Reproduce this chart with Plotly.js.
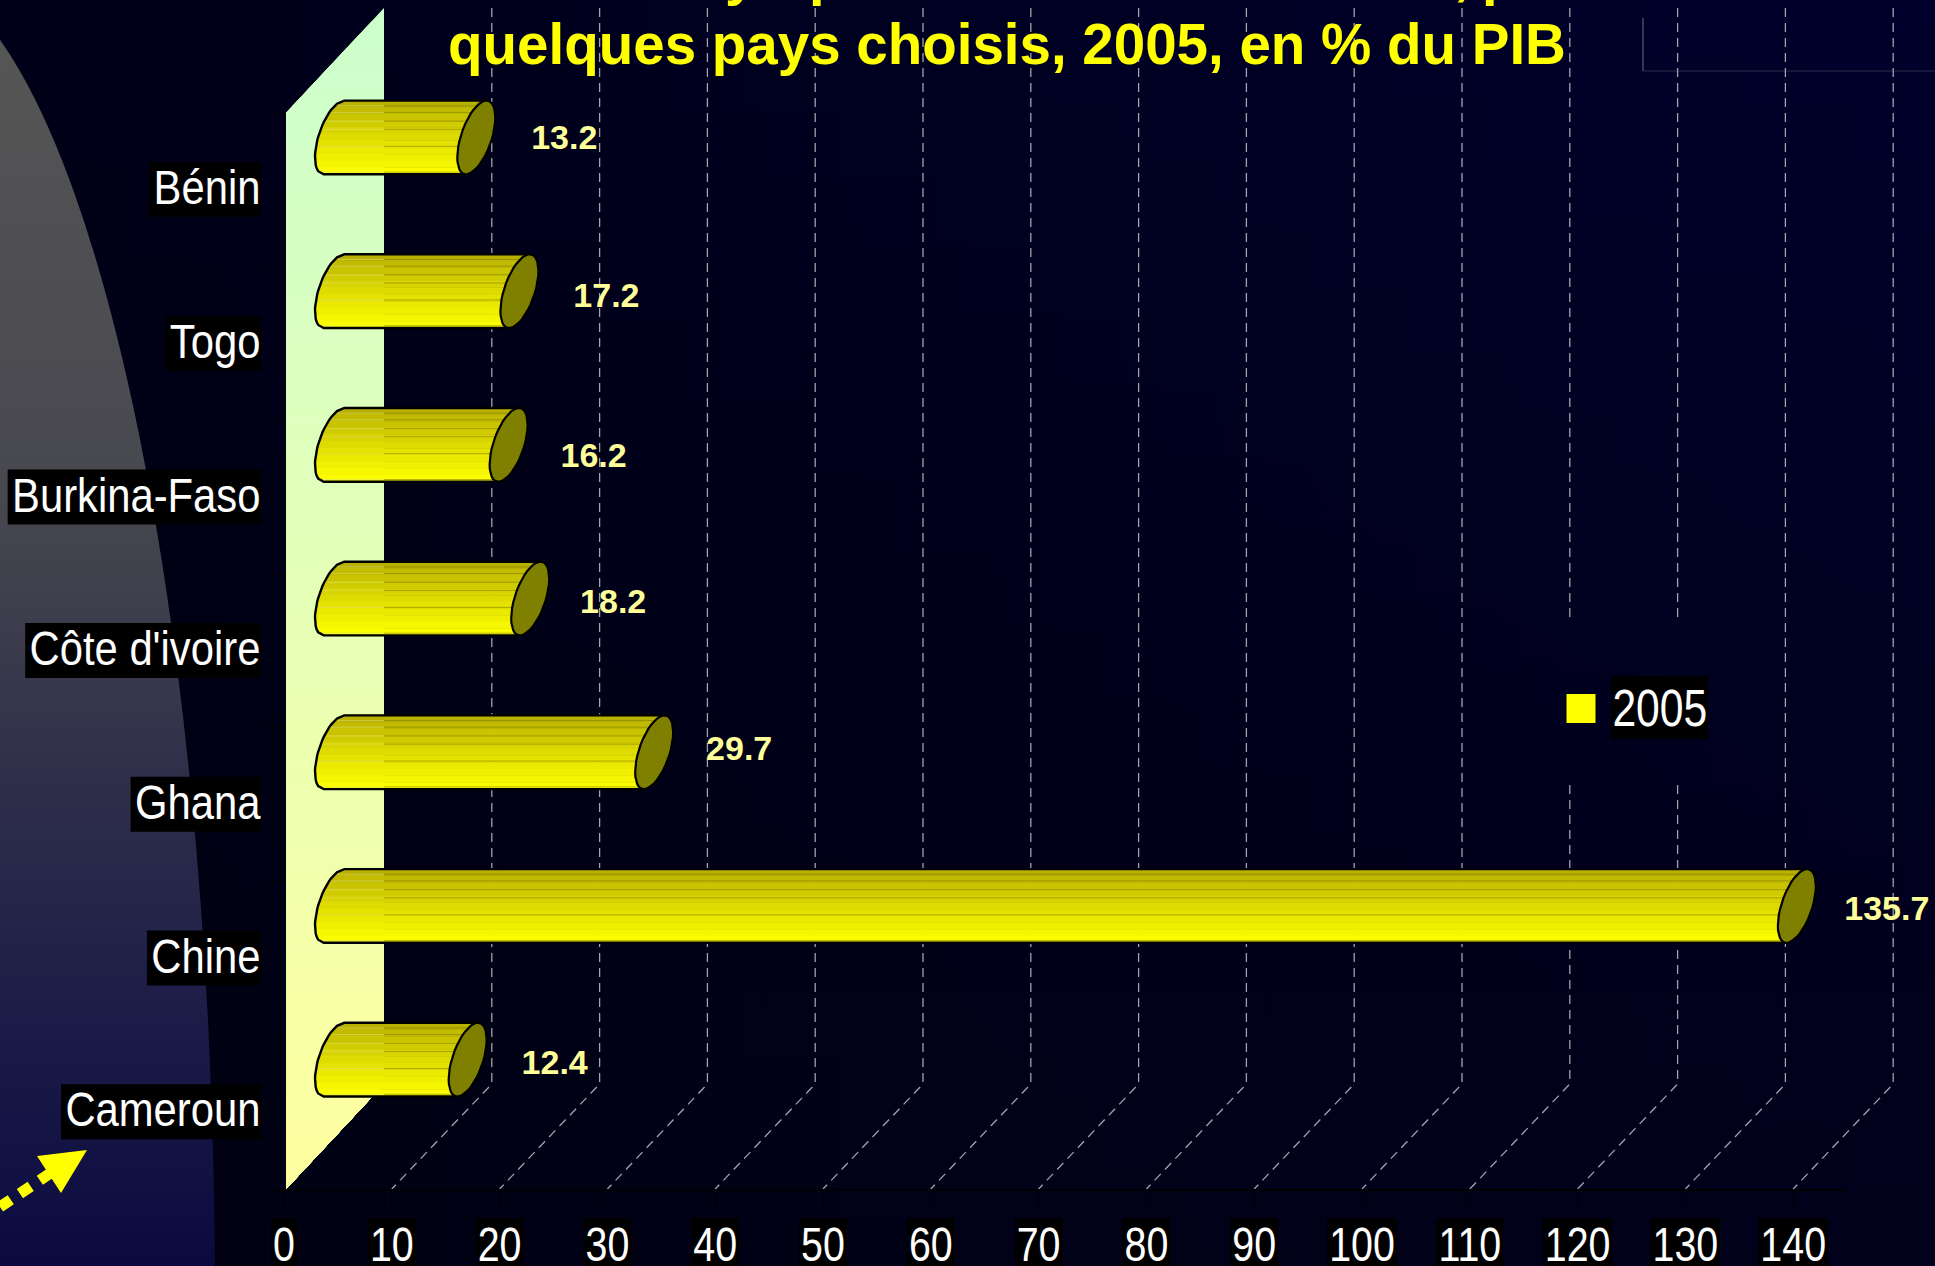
<!DOCTYPE html>
<html>
<head>
<meta charset="utf-8">
<script src="https://cdn.plot.ly/plotly-3.0.1.min.js"></script>
<style>
html,body{margin:0;padding:0;width:1935px;height:1266px;overflow:hidden;background:#000018}
#bg{position:absolute;left:0;top:0;width:1935px;height:1266px}
#chart{position:absolute;left:0;top:0;width:1935px;height:1266px}
</style>
</head>
<body>
<svg id="bg" width="1935" height="1266" xmlns="http://www.w3.org/2000/svg">
<defs>
<linearGradient id="topG" x1="0" y1="0" x2="1" y2="0"><stop offset="0" stop-color="#000018"/><stop offset="1" stop-color="#00002c"/></linearGradient>
<linearGradient id="fade" x1="0" y1="0" x2="0" y2="1"><stop offset="0" stop-color="#000000" stop-opacity="0"/><stop offset="1" stop-color="#02020e" stop-opacity="0.55"/></linearGradient>
<linearGradient id="moon" gradientUnits="userSpaceOnUse" x1="0" y1="40" x2="0" y2="1266">
<stop offset="0" stop-color="#565656"/><stop offset="0.38" stop-color="#47474f"/><stop offset="0.62" stop-color="#2d2d4a"/><stop offset="0.8" stop-color="#1c1c48"/><stop offset="1" stop-color="#0a0a40"/>
</linearGradient>
</defs>
<rect width="1935" height="1266" fill="url(#topG)"/>
<rect width="1935" height="1266" fill="url(#fade)"/>
<ellipse cx="-100" cy="1300" rx="315" ry="1329" fill="url(#moon)"/>
</svg>
<div id="chart"></div>
<script>
// ---- data ----
const categories = ["Bénin","Togo","Burkina-Faso","Côte d'ivoire","Ghana","Chine","Cameroun"];
const values = [13.2,17.2,16.2,18.2,29.7,135.7,12.4];
const seriesName = "2005";
const xTicks = [0,10,20,30,40,50,60,70,80,90,100,110,120,130,140];
const titleText = "quelques pays choisis, 2005, en % du PIB";
const hiddenTitleGlyphs = ["y","p",",","p"];

// ---- layout / 3-D projection settings ----
const W=1935,H=1266,L=284,R=0,B=77;
const unitPx=10.78,rowPx=153.7;
const plotW=W-L-R,plotH=H-B;
const xMax=plotW/unitPx,yBottom=6.5,yTop=yBottom-plotH/rowPx;
const depthX=100,depthY=105;          // px shift from front plane to back wall
const rd=19,rv=31,slope=1.05;         // tube cross-section
const narrowScale=0.82,catScale=0.87; // narrow-font proportion applied to the sans font
const sans='"Liberation Sans",Arial,sans-serif';
const pX=px=>(px-L)/plotW, pY=py=>(plotH-py)/plotH;
const ux=px=>px/unitPx, uy=py=>py/rowPx;

const A=slope*slope+rv*rv/(rd*rd), ymaxE=Math.sqrt(slope*slope*rd*rd+rv*rv);
function roots(y){
  const d=Math.max(0,4*slope*slope*y*y-4*A*(y*y-rv*rv));
  const s=Math.sqrt(d);
  return [(-2*slope*y-s)/(2*A),(-2*slope*y+s)/(2*A)];
}
const midX=ux(depthX/2), midY=uy(depthY/2);

// ---- traces ----
const traces=[];
const base={type:'scatter',hoverinfo:'skip',showlegend:false,cliponaxis:false};

// gridlines: back wall vertical + floor diagonal, broken behind the legend
const gapTop=620,gapBottom=785,gapTicks=[110,120];
const gx=[],gy=[];
const backTopIdx=-0.5-uy(depthY),backBotIdx=yBottom-uy(depthY);
const gapA=yBottom-(plotH-gapTop)/rowPx,gapB=yBottom-(plotH-gapBottom)/rowPx;
xTicks.slice(1).forEach(t=>{
  const bx=t+ux(depthX);
  if(gapTicks.includes(t)){
    gx.push(bx,bx,null,bx,bx,t,null);
    gy.push(backTopIdx,gapA,null,gapB,backBotIdx,yBottom,null);
  } else {
    gx.push(bx,bx,t,null);
    gy.push(backTopIdx,backBotIdx,yBottom,null);
  }
});
traces.push({...base,mode:'lines',x:gx,y:gy,line:{color:'#a2a2ac',width:1.3,dash:'9px,6px'}});

// tube bands
const nBands=11;
for(let b=0;b<nBands;b++){
  const f0=b/nBands,f1=(b+1)/nBands;
  const c=Math.pow(0.5*(f0+f1),0.8);
  const col=`rgb(${Math.round(178+(255-178)*c)},${Math.round(170+(255-170)*c)},0)`;
  const xs=[],ys=[];
  values.forEach((v,i)=>{
    const cy=i-midY,x0=midX,x1=v+midX;
    const yA=-ymaxE+2*ymaxE*f0,yB=-ymaxE+2*ymaxE*f1;
    const n=5,le=[],ri=[];
    for(let k=0;k<=n;k++){
      const y=yA+(yB-yA)*k/n,r=roots(y);
      le.push([x0+ux(r[0]),cy+uy(y)]);
      ri.push([x1+ux(r[1]),cy+uy(y)]);
    }
    le.forEach(p=>{xs.push(p[0]);ys.push(p[1]);});
    ri.reverse().forEach(p=>{xs.push(p[0]);ys.push(p[1]);});
    xs.push(le[0][0],null);ys.push(le[0][1],null);
  });
  traces.push({...base,mode:'lines',x:xs,y:ys,fill:'toself',fillcolor:col,line:{width:0.6,color:col}});
}
// tube ridge lines
const ridgeF=[0.07,0.16,0.28,0.39,0.62,0.97];
const dkX=[],dkY=[],ltX=[],ltY=[];
const wallX=ux(depthX);
values.forEach((v,i)=>{
  const cy=i-midY;
  ridgeF.forEach(f=>{
    const y=-ymaxE+2*ymaxE*f,r=roots(y);
    const xa=midX+ux(r[0]),xb=v+midX+ux(r[0])+ux(4);
    ltX.push(xa,wallX,null);ltY.push(cy+uy(y),cy+uy(y),null);
    dkX.push(wallX,xb,null);dkY.push(cy+uy(y),cy+uy(y),null);
  });
});
traces.push({...base,mode:'lines',x:ltX,y:ltY,line:{color:'rgba(225,225,130,0.5)',width:1}});
traces.push({...base,mode:'lines',x:dkX,y:dkY,line:{color:'rgba(125,120,0,0.55)',width:1}});

// tube outline (left profile, top and bottom edges)
const oX=[],oY=[];
values.forEach((v,i)=>{
  const cy=i-midY;
  const n=24,side=[];
  for(let k=0;k<=n;k++){
    const y=-ymaxE+2*ymaxE*k/n,r=roots(y);
    side.push([midX+ux(r[0]),cy+uy(y)]);
  }
  const t=roots(-ymaxE)[0],bt=roots(ymaxE)[0];
  oX.push(v+midX+ux(t));oY.push(cy+uy(-ymaxE));
  side.forEach(p=>{oX.push(p[0]);oY.push(p[1]);});
  oX.push(v+midX+ux(bt),null);oY.push(cy+uy(ymaxE),null);
});
traces.push({...base,mode:'lines',x:oX,y:oY,line:{color:'#000',width:2.4}});

// tube end caps
const cX=[],cY=[];
values.forEach((v,i)=>{
  const cy=i-midY;
  for(let k=0;k<=40;k++){
    const th=k/40*2*Math.PI;
    const ex=rd*Math.cos(th),ey=-slope*rd*Math.cos(th)-rv*Math.sin(th);
    cX.push(v+midX+ux(ex));cY.push(cy+uy(ey));
  }
  cX.push(null);cY.push(null);
});
traces.push({...base,mode:'lines',x:cX,y:cY,fill:'toself',fillcolor:'#808000',line:{color:'#000',width:2.2}});

// value labels
const labelNudgeY=[3,7,14,6,-1,6,6];
const labelNudgeX=[2,1,-1,-3,-1,4,1];
const labelOffset=86;
traces.push({...base,mode:'text',
  x:values.map((v,i)=>v+midX+ux(labelOffset+labelNudgeX[i])),
  y:values.map((v,i)=>i-midY+uy(labelNudgeY[i])),
  text:values.map(v=>v.toFixed(1)),
  textposition:'middle center',
  textfont:{family:sans,size:34,color:'#ffff99',weight:700}});

// legend swatch
const legX=ux(1581-L),legY=yBottom-(plotH-708.5)/rowPx;
traces.push({...base,name:seriesName,mode:'markers',x:[legX],y:[legY],marker:{symbol:'square',size:29,color:'#ffff00',line:{width:0}}});

// ---- shapes ----
const shapes=[];
const ctx=document.createElement('canvas').getContext('2d');
ctx.font='48px '+sans;
const tw=(s,k)=>ctx.measureText(s).width*k;
function rect(x0,x1,y0,y1,color){
  shapes.push({type:'rect',xref:'paper',yref:'paper',x0:pX(x0),x1:pX(x1),y0:pY(y1),y1:pY(y0),fillcolor:color,line:{width:0},layer:'below'});
}
categories.forEach((c,i)=>{
  const cy=189+i*rowPx;
  rect(259-tw(c,catScale)-3,261,cy-27,cy+28,'#000');
});
xTicks.forEach(t=>{
  const cx=L+t*unitPx,w=tw(String(t),narrowScale);
  rect(cx-w/2-2,cx+w/2+2,1218,1266,'#000');
});
rect(1611,1708,676,739,'#000');
// axis line
shapes.push({type:'line',xref:'paper',yref:'paper',x0:pX(267),x1:pX(1845),y0:pY(1190),y1:pY(1190),line:{color:'#000',width:2},layer:'below'});
// side wall: stacked strips cut horizontally so the fade is purely vertical
const wallN=90,wallF=ux(2),wallB=ux(depthX),wallDy=uy(depthY),wallTop=-0.5,wallBot=yBottom;
for(let k=0;k<wallN;k++){
  const f=k/(wallN-1);
  const col=`rgb(${Math.round(204+51*f)},255,${Math.round(204-44*f)})`;
  const yk=wallTop-wallDy+(wallBot-wallTop+wallDy)*k/wallN;
  const span=wallB-wallF;
  let pts;
  if(yk<wallTop){
    const xL=wallF+span*((wallTop-yk)/wallDy);
    pts=[[xL,yk],[wallB,yk],[wallB,wallBot-wallDy],[wallF,wallBot],[wallF,wallTop]];
  } else if(yk<=wallBot-wallDy){
    pts=[[wallF,yk],[wallB,yk],[wallB,wallBot-wallDy],[wallF,wallBot]];
  } else {
    const xR=wallF+span*((wallBot-yk)/wallDy);
    pts=[[wallF,yk],[xR,yk],[wallF,wallBot]];
  }
  shapes.push({type:'path',xref:'x',yref:'y',layer:'below',fillcolor:col,line:{width:0},
    path:'M'+pts.map(p=>p[0]+','+p[1]).join(' L')+' Z'});
}
// thin frame at upper right
shapes.push({type:'line',xref:'paper',yref:'paper',x0:pX(1643),x1:pX(1643),y0:pY(18),y1:pY(71),line:{color:'#6c6c7c',width:1},layer:'below'});
shapes.push({type:'line',xref:'paper',yref:'paper',x0:pX(1643),x1:pX(1935),y0:pY(71),y1:pY(71),line:{color:'#2c2c4c',width:1},layer:'below'});
// pointer arrow
shapes.push({type:'line',xref:'paper',yref:'paper',x0:pX(0),y0:pY(1207),x1:pX(52),y1:pY(1172),line:{color:'#ffff00',width:11,dash:'13px,11px'}});
shapes.push({type:'path',xref:'paper',yref:'paper',fillcolor:'#ffff00',line:{width:0},
  path:`M${pX(87)},${pY(1150)} L${pX(37)},${pY(1156)} L${pX(61)},${pY(1193)} Z`});

// ---- annotations ----
const annotations=[{
  xref:'paper',yref:'paper',x:pX(1660),y:pY(708),xanchor:'center',yanchor:'middle',
  text:seriesName,showarrow:false,borderpad:0,
  font:{family:sans,size:52,color:'#fff'}
}];
const hiddenX=[740,826,1462,1499];
hiddenTitleGlyphs.forEach((g,i)=>annotations.push({
  xref:'paper',yref:'paper',x:pX(hiddenX[i]),y:pY(7),xanchor:'center',yanchor:'bottom',
  text:g,showarrow:false,borderpad:0,font:{family:sans,size:56,color:'#ffff00',weight:700}
}));

const layout={
  width:W,height:H,
  margin:{l:L,r:R,t:0,b:B,pad:0},
  paper_bgcolor:'rgba(0,0,0,0)',plot_bgcolor:'rgba(0,0,0,0)',
  showlegend:false,hovermode:false,
  title:{text:titleText,x:1007/W,xanchor:'center',xref:'container',y:1-44/H,yanchor:'middle',yref:'container',
    font:{family:sans,size:56.5,color:'#ffff00',weight:700}},
  xaxis:{range:[0,xMax],tickmode:'array',tickvals:xTicks,ticktext:xTicks.map(String),
    ticks:'outside',ticklen:13,tickwidth:1,tickcolor:'rgba(0,0,0,0)',showline:false,
    showgrid:false,zeroline:false,automargin:false,tickangle:0,
    minor:{ticks:'outside',ticklen:18,tickwidth:1,tickcolor:'#000',tickmode:'array',tickvals:xTicks,showgrid:false},
    tickfont:{family:sans,size:48,color:'#fff'}},
  yaxis:{range:[yBottom,yTop],tickmode:'array',tickvals:categories.map((c,i)=>i-uy(2.5)),ticktext:categories,
    ticks:'outside',ticklen:13,tickwidth:1,tickcolor:'rgba(0,0,0,0)',showline:false,
    showgrid:false,zeroline:false,automargin:false,
    minor:{ticks:'outside',ticklen:17,tickwidth:1,tickcolor:'#000',tickmode:'array',tickvals:[-0.5,0.5,1.5,2.5,3.5,4.5,5.5,6.5],showgrid:false},
    tickfont:{family:sans,size:48,color:'#fff'}},
  shapes,annotations
};
function squeeze(n,k){
  n.setAttribute('textLength',n.getComputedTextLength()*k);
  n.setAttribute('lengthAdjust','spacingAndGlyphs');
}
function narrowText(){
  document.querySelectorAll('#chart .xtick text').forEach(n=>squeeze(n,narrowScale));
  document.querySelectorAll('#chart .ytick text').forEach(n=>squeeze(n,catScale));
  document.querySelectorAll('#chart .annotation-text').forEach(n=>{ if(n.textContent===seriesName) squeeze(n,narrowScale); });
}
Plotly.newPlot('chart',traces,layout,{displayModeBar:false,staticPlot:true}).then(narrowText);
</script>
</body>
</html>
